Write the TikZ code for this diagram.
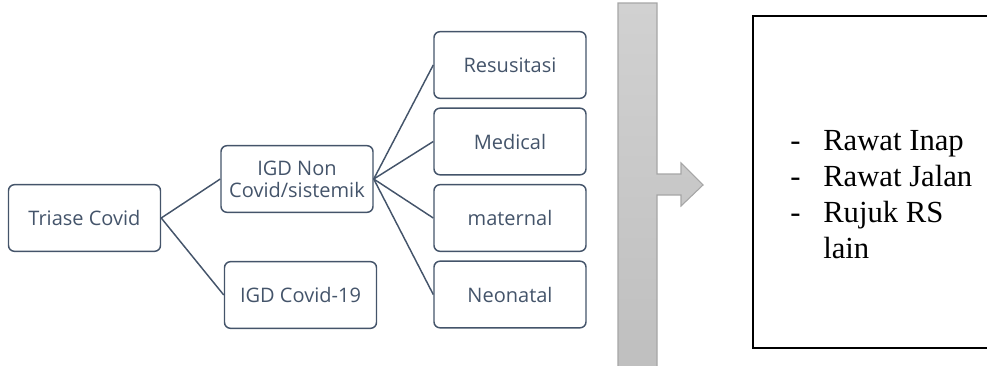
\documentclass[tikz,border=0pt]{standalone}
\usepackage{fontspec}
\setmainfont{Liberation Serif}
\newfontfamily\boxfont{Open Sans}
\usepackage{tikz}
\definecolor{slate}{HTML}{44546A}

\begin{document}
\begin{tikzpicture}[x=0.75pt,y=-0.75pt,
	ibox/.style={draw=slate, line width=1.1pt, rounded corners=4.5pt, text=slate,
		minimum width=114pt, minimum height=50pt, align=center,
		font=\boxfont\fontsize{15}{16.5}\selectfont},
	link/.style={draw=slate, line width=1.1pt}]
			\useasboundingbox (0,0) rectangle (987,365);
			\node[ibox] (triase) at (84.5,218) {Triase Covid};
			\node[ibox] (nonCovid) at (297,179) {IGD Non\\Covid/sistemik};
			\node[ibox] (covid) at (300.5,295) {IGD Covid-19};
			\node[ibox] (resus) at (510,65) {Resusitasi};
			\node[ibox] (medical) at (510,141.5) {Medical};
			\node[ibox] (maternal) at (510,218) {maternal};
			\node[ibox] (neonatal) at (510,294.5) {Neonatal};
			\draw[link] (triase.east) -- (nonCovid.west);
			\draw[link] (triase.east) -- (covid.west);
			\foreach \b in {resus,medical,maternal,neonatal}
				\draw[link] (nonCovid.east) -- (\b.west);
			% grey bar with arrow
			\begin{scope}
				\clip (0,0) rectangle (987,365);
				\draw[draw={rgb,255:red,166;green,166;blue,166}, line width=0.8pt,
					top color={rgb,255:red,209;green,209;blue,209},
					bottom color={rgb,255:red,191;green,191;blue,191}]
					(618,3) -- (657,3) -- (657,174) -- (681,174) -- (681,163) -- (703,185)
					-- (681,206) -- (681,195) -- (657,195) -- (657,370) -- (618,370) -- cycle;
			\end{scope}
			% result box
			\draw[line width=1.6pt] (1000,16) -- (753,16) -- (753,348) -- (1000,348);
			\node[anchor=base west, inner sep=0pt, font=\fontsize{23}{27}\selectfont] (result) at (790,150)
				{\begin{tabular}[t]{@{}p{24.75pt}@{}l@{}}
					- & Rawat Inap\\
					- & Rawat Jalan\\
					- & Rujuk RS\\
					  & lain
				\end{tabular}};
		\end{tikzpicture}
\end{document}
